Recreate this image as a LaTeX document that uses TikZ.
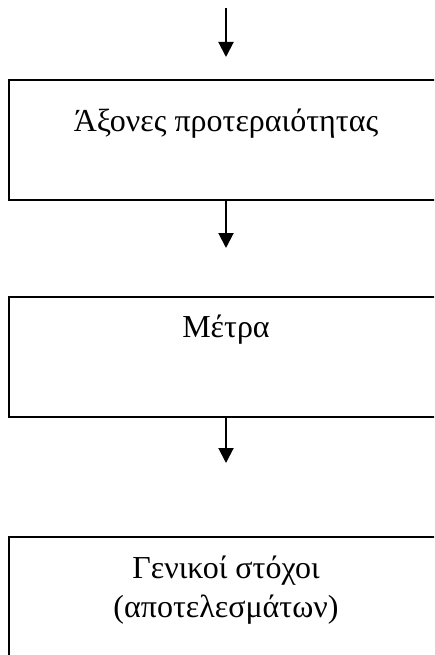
\documentclass[tikz,border=0pt]{standalone}
\usepackage{fontspec}
\setmainfont{Liberation Serif}
\usetikzlibrary{positioning,arrows.meta}

\begin{document}
\begin{tikzpicture}[x=1pt,y=1pt,
        box/.style={draw, line width=2pt, minimum width=434pt, minimum height=120pt, inner sep=0pt, outer sep=0pt},
        arr/.style={line width=2pt, -{Triangle[width=15pt,length=15pt]}},
        txt/.style={font=\fontsize{32}{39}\selectfont, align=center, anchor=base, inner sep=0pt}]
    \useasboundingbox (0,0) rectangle (434,-655);
    \clip (0,0) rectangle (434,-655);
    % incoming arrow at the top
    \coordinate (in) at (226,-8);
    \coordinate (a0) at (226,-57);
    % priority axes
    \node[box, label={[txt,yshift=-52pt]north:Άξονες προτεραιότητας}] (axones) at (226,-140) {};
    \coordinate[below=48pt of axones.south] (a1);
    % measures
    \node[box, below=97pt of axones, label={[txt,yshift=-40pt]north:Μέτρα}] (metra) {};
    \coordinate[below=46pt of metra.south] (a2);
    % general goals, cut at the bottom (base = last line)
    \node[box, below=120pt of metra, minimum height=160pt,
          label={[txt,yshift=-80pt]north:Γενικοί στόχοι\\(αποτελεσμάτων)}] (stoxoi) {};
    \draw[arr] (in) -- (a0);
    \draw[arr] (axones.south) -- (a1);
    \draw[arr] (metra.south) -- (a2);
\end{tikzpicture}
\end{document}
